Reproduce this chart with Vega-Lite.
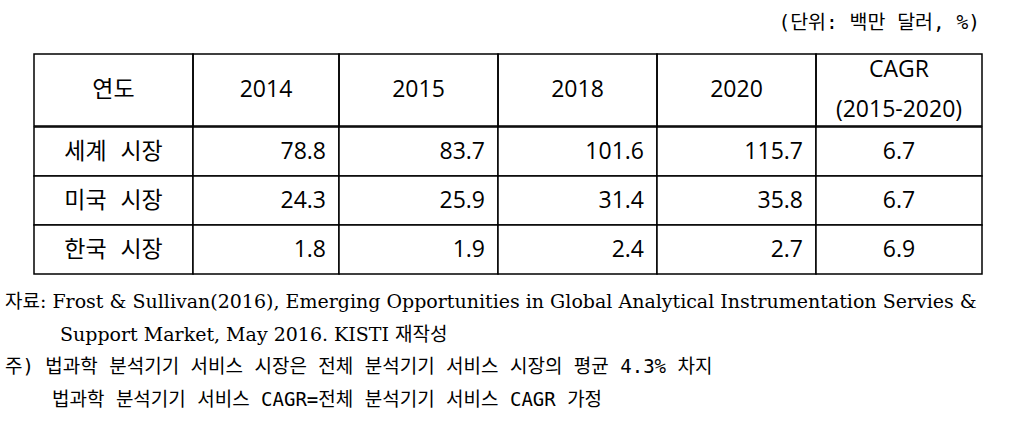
{
  "$schema": "https://vega.github.io/schema/vega-lite/v6.json",
  "background": "white",
  "padding": {"left": 5, "top": 0, "right": 5, "bottom": 0},
  "spacing": -1.5,
  "config": {
    "view": {"stroke": null},
    "concat": {"spacing": 0},
    "text": {"color": "#000", "font": "Open Sans, Noto Sans CJK KR", "fontSize": 23, "baseline": "middle"}
  },
  "datasets": {
    "unit": [{"text": "(단위: 백만 달러, %)"}],
    "header": [
      {"key": "label", "label": "연도"},
      {"key": "y2014", "label": "2014"},
      {"key": "y2015", "label": "2015"},
      {"key": "y2018", "label": "2018"},
      {"key": "y2020", "label": "2020"},
      {"key": "cagr", "label": "CAGR\n(2015-2020)"}
    ],
    "table": [
      {"market": "세계 시장", "y2014": 78.8, "y2015": 83.7, "y2018": 101.6, "y2020": 115.7, "cagr": 6.7},
      {"market": "미국 시장", "y2014": 24.3, "y2015": 25.9, "y2018": 31.4, "y2020": 35.8, "cagr": 6.7},
      {"market": "한국 시장", "y2014": 1.8, "y2015": 1.9, "y2018": 2.4, "y2020": 2.7, "cagr": 6.9}
    ],
    "notes": [
      {"line": 1, "text": "자료: Frost & Sullivan(2016), Emerging Opportunities in Global Analytical Instrumentation Servies &"},
      {"line": 2, "text": "Support Market, May 2016. KISTI 재작성"},
      {"line": 3, "text": "주) 법과학 분석기기 서비스 시장은 전체 분석기기 서비스 시장의 평균 4.3% 차지"},
      {"line": 4, "text": "법과학 분석기기 서비스 CAGR=전체 분석기기 서비스 CAGR 가정"}
    ]
  },
  "vconcat": [
    {
      "width": 977, "height": 53.75,
      "data": {"name": "unit"},
      "mark": {"type": "text", "font": "DejaVu Sans Mono, Noto Sans CJK KR", "fontSize": 19.5, "align": "right", "dx": -2, "dy": -4},
      "encoding": {"x": {"value": "width"}, "text": {"field": "text"}}
    },
    {
      "bounds": "flush",
      "spacing": 0,
      "hconcat": [
        {"width": 29, "height": 72, "data": {"values": []}, "mark": "text", "encoding": {}},
        {"width": 159, "height": 72, "data": {"name": "header"}, "transform": [{"filter": "datum.key === 'label'"}],
         "view": {"stroke": "#000", "strokeWidth": 1.5},
         "mark": {"type": "text"},
         "encoding": {"text": {"field": "label"}}},
        {"width": 146, "height": 72, "data": {"name": "header"}, "transform": [{"filter": "datum.key === 'y2014'"}],
         "view": {"stroke": "#000", "strokeWidth": 1.5},
         "mark": {"type": "text"},
         "encoding": {"text": {"field": "label"}}},
        {"width": 159, "height": 72, "data": {"name": "header"}, "transform": [{"filter": "datum.key === 'y2015'"}],
         "view": {"stroke": "#000", "strokeWidth": 1.5},
         "mark": {"type": "text"},
         "encoding": {"text": {"field": "label"}}},
        {"width": 159, "height": 72, "data": {"name": "header"}, "transform": [{"filter": "datum.key === 'y2018'"}],
         "view": {"stroke": "#000", "strokeWidth": 1.5},
         "mark": {"type": "text"},
         "encoding": {"text": {"field": "label"}}},
        {"width": 159, "height": 72, "data": {"name": "header"}, "transform": [{"filter": "datum.key === 'y2020'"}],
         "view": {"stroke": "#000", "strokeWidth": 1.5},
         "mark": {"type": "text"},
         "encoding": {"text": {"field": "label"}}},
        {"width": 166, "height": 72, "data": {"name": "header"}, "transform": [{"filter": "datum.key === 'cagr'"}],
         "view": {"stroke": "#000", "strokeWidth": 1.5},
         "mark": {"type": "text", "lineBreak": "\n", "lineHeight": 40, "dy": -20},
         "encoding": {"text": {"field": "label"}}}
      ]
    },
    {
      "bounds": "flush",
      "spacing": 0,
      "hconcat": [
        {"width": 29, "height": 147, "data": {"values": []}, "mark": "text", "encoding": {}},
        {"width": 159, "height": 147, "data": {"name": "table"},
         "encoding": {"y": {"field": "market", "type": "nominal", "sort": null, "axis": null, "scale": {"paddingInner": 0, "paddingOuter": 0}}},
         "layer": [
           {"mark": {"type": "rect", "fill": "white", "stroke": "#000", "strokeWidth": 1.5}},
           {"mark": {"type": "text", "font": "DejaVu Sans Mono, Noto Sans CJK KR"},
            "encoding": {"text": {"field": "market"}}}
         ]},
        {"width": 146, "height": 147, "data": {"name": "table"},
         "encoding": {"y": {"field": "market", "type": "nominal", "sort": null, "axis": null, "scale": {"paddingInner": 0, "paddingOuter": 0}}},
         "layer": [
           {"mark": {"type": "rect", "fill": "white", "stroke": "#000", "strokeWidth": 1.5}},
           {"mark": {"type": "text", "align": "right", "dx": -13},
            "encoding": {"x": {"value": "width"}, "text": {"field": "y2014", "type": "quantitative", "format": ".1f"}}}
         ]},
        {"width": 159, "height": 147, "data": {"name": "table"},
         "encoding": {"y": {"field": "market", "type": "nominal", "sort": null, "axis": null, "scale": {"paddingInner": 0, "paddingOuter": 0}}},
         "layer": [
           {"mark": {"type": "rect", "fill": "white", "stroke": "#000", "strokeWidth": 1.5}},
           {"mark": {"type": "text", "align": "right", "dx": -13},
            "encoding": {"x": {"value": "width"}, "text": {"field": "y2015", "type": "quantitative", "format": ".1f"}}}
         ]},
        {"width": 159, "height": 147, "data": {"name": "table"},
         "encoding": {"y": {"field": "market", "type": "nominal", "sort": null, "axis": null, "scale": {"paddingInner": 0, "paddingOuter": 0}}},
         "layer": [
           {"mark": {"type": "rect", "fill": "white", "stroke": "#000", "strokeWidth": 1.5}},
           {"mark": {"type": "text", "align": "right", "dx": -13},
            "encoding": {"x": {"value": "width"}, "text": {"field": "y2018", "type": "quantitative", "format": ".1f"}}}
         ]},
        {"width": 159, "height": 147, "data": {"name": "table"},
         "encoding": {"y": {"field": "market", "type": "nominal", "sort": null, "axis": null, "scale": {"paddingInner": 0, "paddingOuter": 0}}},
         "layer": [
           {"mark": {"type": "rect", "fill": "white", "stroke": "#000", "strokeWidth": 1.5}},
           {"mark": {"type": "text", "align": "right", "dx": -13},
            "encoding": {"x": {"value": "width"}, "text": {"field": "y2020", "type": "quantitative", "format": ".1f"}}}
         ]},
        {"width": 166, "height": 147, "data": {"name": "table"},
         "encoding": {"y": {"field": "market", "type": "nominal", "sort": null, "axis": null, "scale": {"paddingInner": 0, "paddingOuter": 0}}},
         "layer": [
           {"mark": {"type": "rect", "fill": "white", "stroke": "#000", "strokeWidth": 1.5}},
           {"mark": {"type": "text"},
            "encoding": {"text": {"field": "cagr", "type": "quantitative", "format": ".1f"}}}
         ]}
      ]
    },
    {"width": 1, "height": 10.25, "data": {"values": []}, "mark": "text", "encoding": {}},
    {
      "width": 977,
      "height": 130,
      "data": {"name": "notes"},
      "encoding": {
        "y": {"field": "line", "type": "ordinal", "sort": null, "axis": null, "scale": {"paddingInner": 0, "paddingOuter": 0}},
        "x": {"value": 0},
        "text": {"field": "text"}
      },
      "layer": [
        {"transform": [{"filter": "datum.line === 1"}],
         "mark": {"type": "text", "font": "DejaVu Serif, Noto Sans CJK KR", "fontSize": 19, "align": "left"}},
        {"transform": [{"filter": "datum.line === 2"}],
         "mark": {"type": "text", "font": "DejaVu Serif, Noto Sans CJK KR", "fontSize": 19, "align": "left", "dx": 55}},
        {"transform": [{"filter": "datum.line === 3"}],
         "mark": {"type": "text", "font": "DejaVu Sans Mono, Noto Sans CJK KR", "fontSize": 19, "align": "left"}},
        {"transform": [{"filter": "datum.line === 4"}],
         "mark": {"type": "text", "font": "DejaVu Sans Mono, Noto Sans CJK KR", "fontSize": 19, "align": "left", "dx": 47}}
      ]
    }
  ]
}
